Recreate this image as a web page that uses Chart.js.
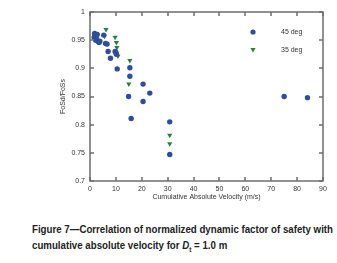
<!DOCTYPE html>
<html>
<head>
<meta charset="utf-8">
<script src="https://cdn.jsdelivr.net/npm/chart.js@4.4.1/dist/chart.umd.min.js"></script>
<style>
  html, body { margin: 0; padding: 0; background: #fff; }
  #wrap { position: relative; width: 337px; height: 210px; }
  .cap {
    position: absolute; left: 32px; white-space: nowrap; transform-origin: 0 50%;
    font-family: "Liberation Sans", Arial, sans-serif;
    font-weight: bold; font-size: 10.5px; line-height: 14px; color: #222;
  }
</style>
</head>
<body>
<div id="wrap"><canvas id="cavChart"></canvas></div>
<div class="cap" id="cap1" style="top:222px">Figure 7—Correlation of normalized dynamic factor of safety with</div>
<div class="cap" id="cap2" style="top:238px">cumulative absolute velocity for <i>D</i><sub style="font-size:7px;line-height:0">t</sub> = 1.0 m</div>
<script>
// 45 deg series (CAV in m/s, FoSd/FoSs)
const cav45 = [1.6, 1.8, 2.0, 2.2, 2.2, 2.5, 2.8, 3.0, 3.5, 3.8, 5.3, 6.0, 6.6, 7.0, 7.9, 9.7, 10.0, 10.2, 10.5, 15.4, 15.4, 14.9, 15.9, 20.5, 23.1, 20.5, 30.8, 30.8, 75.0, 84.0];
const fos45 = [0.955, 0.962, 0.958, 0.955, 0.950, 0.952, 0.960, 0.948, 0.946, 0.948, 0.959, 0.944, 0.943, 0.930, 0.918, 0.930, 0.928, 0.925, 0.899, 0.901, 0.886, 0.850, 0.811, 0.872, 0.856, 0.841, 0.805, 0.747, 0.850, 0.848];

// 35 deg series
const cav35 = [6.2, 5.6, 9.7, 10.2, 10.4, 10.8, 15.4, 15.0, 30.8, 30.8];
const fos35 = [0.969, 0.957, 0.955, 0.946, 0.937, 0.922, 0.914, 0.872, 0.781, 0.766];

const xTicks = [0, 10, 20, 30, 40, 50, 60, 70, 80, 90];
const yTicks = [0.7, 0.75, 0.8, 0.85, 0.9, 0.95, 1];

const blue = '#2d4d9e';
const green = '#2a7f3c';
const fontFam = '"Liberation Sans", Arial, sans-serif';

const toPoints = (xs, ys) => xs.map((x, i) => ({ x: x, y: ys[i] }));

// squeeze the caption lines to the width of the printed caption
const cap1 = document.getElementById('cap1');
const cap2 = document.getElementById('cap2');
const k = 301 / cap1.getBoundingClientRect().width;
cap1.style.transform = cap2.style.transform = `scaleX(${k})`;

// box, inward ticks, axis titles and the legend, MATLAB style
const matlabAxes = {
  id: 'matlabAxes',
  afterDraw(chart) {
    const c = chart.ctx;
    const a = chart.chartArea;
    const xs = chart.scales.x, ys = chart.scales.y;
    c.save();
    c.strokeStyle = '#6e6e6e';
    c.lineWidth = 1.5;
    const L = Math.round(a.left), R = Math.round(a.right);
    const T = Math.round(a.top), B = Math.round(a.bottom);
    c.strokeRect(L, T, R - L, B - T);
    c.beginPath();
    xTicks.forEach(v => {
      const px = Math.round(xs.getPixelForValue(v));
      c.moveTo(px, B); c.lineTo(px, B - 4);
      c.moveTo(px, T); c.lineTo(px, T + 4);
    });
    yTicks.forEach(v => {
      const py = Math.round(ys.getPixelForValue(v));
      c.moveTo(L, py); c.lineTo(L + 4, py);
      c.moveTo(R, py); c.lineTo(R - 4, py);
    });
    c.stroke();

    c.fillStyle = '#333';
    c.font = '7px ' + fontFam;
    c.textAlign = 'center';
    c.textBaseline = 'middle';
    c.fillText('Cumulative Absolute Velocity (m/s)', (a.left + a.right) / 2, 197);
    c.save();
    c.translate(63, (a.top + a.bottom) / 2);
    c.rotate(-Math.PI / 2);
    c.fillText('FoSd/FoSs', 0, 0);
    c.restore();

    // legend inside the axes
    const items = [
      { label: '45 deg', ds: 0, y: a.top + 20 },
      { label: '35 deg', ds: 1, y: a.top + 38 }
    ];
    const lx = a.left + 163;
    items.forEach(it => {
      const d = chart.data.datasets[it.ds];
      c.fillStyle = d.backgroundColor;
      c.beginPath();
      if (d.pointStyle === 'triangle') {
        c.moveTo(lx - 2.6, it.y - 2);
        c.lineTo(lx + 2.6, it.y - 2);
        c.lineTo(lx, it.y + 2.5);
        c.closePath();
      } else {
        c.arc(lx, it.y, 2.6, 0, Math.PI * 2);
      }
      c.fill();
      c.fillStyle = '#333';
      c.textAlign = 'left';
      c.fillText(it.label, lx + 28, it.y);
    });
    c.restore();
  }
};

new Chart(document.getElementById('cavChart'), {
  type: 'scatter',
  data: {
    datasets: [
      {
        label: '45 deg',
        data: toPoints(cav45, fos45),
        backgroundColor: blue,
        borderColor: blue,
        pointStyle: 'circle',
        pointRadius: 2.7,
        borderWidth: 0
      },
      {
        label: '35 deg',
        data: toPoints(cav35, fos35),
        backgroundColor: green,
        borderColor: green,
        pointStyle: 'triangle',
        rotation: 180,
        pointRadius: 3,
        borderWidth: 0
      }
    ]
  },
  options: {
    responsive: true,
    maintainAspectRatio: false,
    animation: false,
    layout: { padding: { left: 0, right: 14, top: 12, bottom: 0 } },
    plugins: {
      legend: { display: false },
      tooltip: { enabled: false }
    },
    scales: {
      x: {
        type: 'linear',
        min: 0,
        max: 90,
        afterBuildTicks: s => { s.ticks = xTicks.map(v => ({ value: v })); },
        afterFit: s => { s.height = 29; },
        grid: { display: false, drawTicks: false },
        border: { display: false },
        ticks: { padding: 4, color: '#333', font: { size: 7, family: fontFam } }
      },
      y: {
        type: 'linear',
        min: 0.7,
        max: 1,
        afterBuildTicks: s => { s.ticks = yTicks.map(v => ({ value: v })); },
        afterFit: s => { s.width = 90; },
        grid: { display: false, drawTicks: false },
        border: { display: false },
        ticks: {
          padding: 5,
          color: '#333',
          font: { size: 7, family: fontFam },
          callback: v => String(+v.toFixed(2))
        }
      }
    }
  },
  plugins: [matlabAxes]
});
</script>
</body>
</html>
